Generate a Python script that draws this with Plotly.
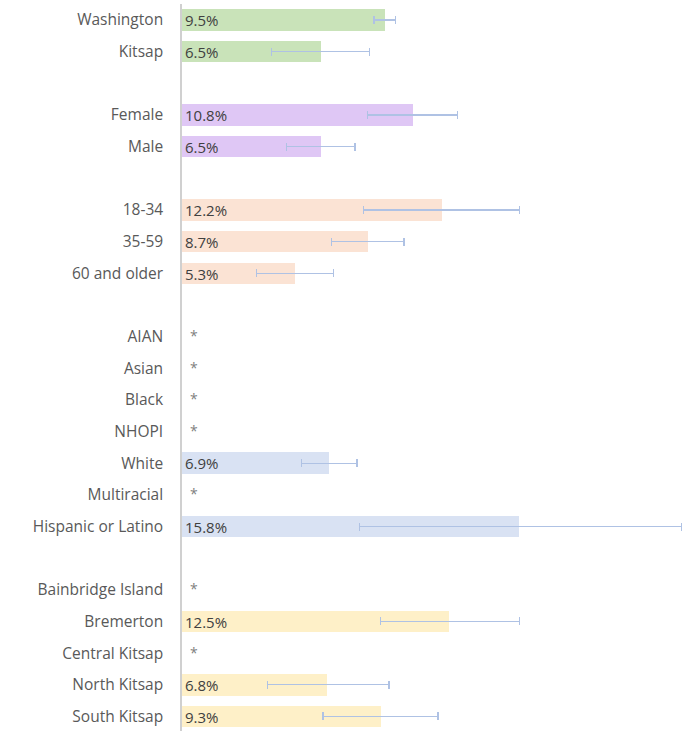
import plotly.graph_objects as go

# Rows in display order; "" marks a spacer row between groups
categories = ["Washington", "Kitsap", "",
              "Female", "Male", "",
              "18-34", "35-59", "60 and older", "",
              "AIAN", "Asian", "Black", "NHOPI", "White", "Multiracial", "Hispanic or Latino", "",
              "Bainbridge Island", "Bremerton", "Central Kitsap", "North Kitsap", "South Kitsap"]

# Percent values (None = suppressed, shown as "*")
values = [9.5, 6.5, None,
          10.8, 6.5, None,
          12.2, 8.7, 5.3, None,
          None, None, None, None, 6.9, None, 15.8, None,
          None, 12.5, None, 6.8, 9.3]

# 95% confidence interval bounds
ci_low = [9.0, 4.2, None,
          8.7, 4.9, None,
          8.5, 7.0, 3.5, None,
          None, None, None, None, 5.6, None, 8.3, None,
          None, 9.3, None, 4.0, 6.6]
ci_high = [10.0, 8.8, None,
           12.9, 8.1, None,
           15.8, 10.4, 7.1, None,
           None, None, None, None, 8.2, None, 23.4, None,
           None, 15.8, None, 9.7, 12.0]

groups = ["geo", "geo", None,
          "sex", "sex", None,
          "age", "age", "age", None,
          "race", "race", "race", "race", "race", "race", "race", None,
          "region", "region", "region", "region", "region"]

group_colors = {"geo": "#c9e3b9", "sex": "#dfc7f5", "age": "#fbe3d4",
                "race": "#d9e2f3", "region": "#fef0c8"}

FONT = "Open Sans, sans-serif"

rows = list(range(len(categories)))
bar_idx = [i for i, v in enumerate(values) if v is not None]
star_idx = [i for i, (c, v) in enumerate(zip(categories, values)) if c and v is None]

fig = go.Figure()

fig.add_trace(go.Bar(
    orientation="h",
    y=[rows[i] for i in bar_idx],
    x=[values[i] for i in bar_idx],
    width=0.68,
    marker=dict(color=[group_colors[groups[i]] for i in bar_idx], line=dict(width=0)),
    text=[f"{values[i]:.1f}%" for i in bar_idx],
    textposition="inside",
    insidetextanchor="start",
    textangle=0,
    textfont=dict(family=FONT, size=15, color="#404040"),
    error_x=dict(
        type="data", symmetric=False,
        array=[ci_high[i] - values[i] for i in bar_idx],
        arrayminus=[values[i] - ci_low[i] for i in bar_idx],
        color="#afc2e4", thickness=1.3, width=4,
    ),
    hoverinfo="skip",
    showlegend=False,
))

# Suppressed estimates marked with an asterisk next to the axis
for i in star_idx:
    fig.add_annotation(
        x=0, y=rows[i], text="*", showarrow=False,
        xanchor="left", xshift=6, yshift=1,
        font=dict(family=FONT, size=14, color="#7f7f7f"),
    )

fig.update_layout(
    width=690, height=731,
    margin=dict(l=182, r=0, t=4, b=0),
    paper_bgcolor="white", plot_bgcolor="white",
    bargap=0,
    uniformtext=dict(minsize=15, mode="show"),
    font=dict(family=FONT, size=15, color="#595959"),
    xaxis=dict(range=[0, 23.8], visible=False, showgrid=False, zeroline=False),
    yaxis=dict(
        range=[22.46, -0.506],
        tickmode="array", tickvals=rows, ticktext=categories,
        showline=True, linecolor="#d0d0d0", linewidth=1.5,
        showgrid=False, zeroline=False, ticks="",
        ticklabelstandoff=14,
        tickfont=dict(family=FONT, size=15.5, color="#595959"),
    ),
)

fig.write_html("out.html")
